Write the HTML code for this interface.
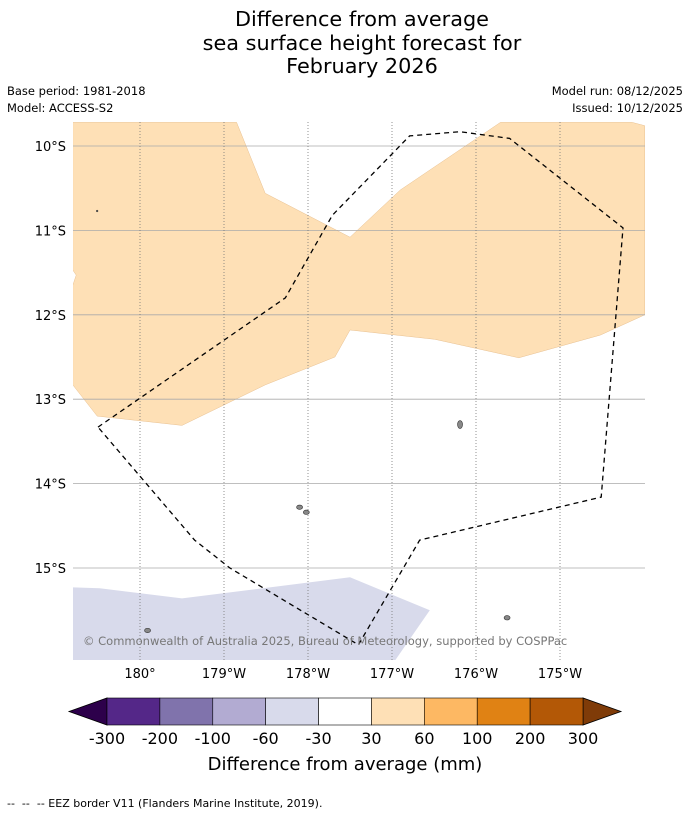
<!DOCTYPE html>
<html><head><meta charset="utf-8">
<style>
body{margin:0;background:#fff;font-family:"Liberation Sans","DejaVu Sans",sans-serif;}
#wrap{position:relative;width:690px;height:816px;overflow:hidden;}
.t{position:absolute;white-space:pre;}
</style></head>
<body>
<div id="wrap">
<div class="t" style="left:0;width:724px;top:8px;text-align:center;font-size:20.8px;line-height:23.5px;font-family:'DejaVu Sans',sans-serif;">Difference from average<br>sea surface height forecast for<br>February 2026</div>
<div class="t" style="left:7px;top:84px;font-size:11.5px;font-family:'DejaVu Sans',sans-serif;">Base period: 1981-2018</div>
<div class="t" style="left:7px;top:101px;font-size:11.5px;font-family:'DejaVu Sans',sans-serif;">Model: ACCESS-S2</div>
<div class="t" style="right:7px;top:84px;font-size:11.5px;font-family:'DejaVu Sans',sans-serif;">Model run: 08/12/2025</div>
<div class="t" style="right:7px;top:101px;font-size:11.5px;font-family:'DejaVu Sans',sans-serif;">Issued: 10/12/2025</div>
<svg id="map" width="690" height="816" style="position:absolute;left:0;top:0"></svg>
<div class="t" style="left:7px;top:797px;font-size:11px;font-family:'DejaVu Sans',sans-serif;">--  --  -- EEZ border V11 (Flanders Marine Institute, 2019).</div>
</div>
<script>
const lonTicks=[180,181,182,183,184,185];
const lonLabels=["180°","179°W","178°W","177°W","176°W","175°W"];
const latTicks=[10,11,12,13,14,15];
const latLabels=["10°S","11°S","12°S","13°S","14°S","15°S"];
const orangeLon=[179.2,181.15,181.49,182.5,183.1,184.29,185.86,186.01,186.01,185.48,184.51,183.51,182.5,182.32,181.49,180.5,179.49,179.2,179.2,179.24,179.2];
const orangeLat=[9.72,9.72,10.56,11.08,10.52,9.72,9.72,9.76,12.0,12.24,12.51,12.29,12.18,12.5,12.83,13.31,13.2,12.83,11.65,11.53,11.47];
const purpleLon=[179.2,179.52,180.5,182.5,183.45,183.04,179.2];
const purpleLat=[15.23,15.24,15.36,15.11,15.5,16.09,16.09];
const eezLon=[179.5,181.73,182.29,183.21,183.81,184.4,185.75,185.49,183.33,182.6,181.07,180.65,179.5];
const eezLat=[13.33,11.8,10.82,9.88,9.83,9.91,10.97,14.16,14.67,15.91,15.0,14.67,13.33];
const islandLon=[183.81,181.9,181.98,184.37,180.09,179.49];
const islandLat=[13.3,14.28,14.34,15.59,15.74,10.77];
const cbBounds=["-300","-200","-100","-60","-30","30","60","100","200","300"];
const cbColors=["#542788","#8073ac","#b2abd2","#d8daeb","#ffffff","#fee0b6","#fdb863","#e08214","#b35806"];
const cbLow="#2d004b", cbHigh="#7f3b08";

const NS="http://www.w3.org/2000/svg";
const svg=document.getElementById('map');
const X0=73,X1=645,Y0=122,Y1=660;
const px=lon=>140+(lon-180)*84;
const py=lat=>146+(lat-10)*84.4;
function mk(tag,attrs,parent){const e=document.createElementNS(NS,tag);for(const k in attrs)e.setAttribute(k,attrs[k]);(parent||svg).appendChild(e);return e;}
const defs=mk('defs',{});
const cp=mk('clipPath',{id:'clip'},defs);mk('rect',{x:X0,y:Y0,width:X1-X0,height:Y1-Y0},cp);
const g=mk('g',{'clip-path':'url(#clip)'});
function poly(lons,lats){return lons.map((l,i)=>px(l).toFixed(1)+','+py(lats[i]).toFixed(1)).join(' ');}
const o=mk('polygon',{points:poly(orangeLon,orangeLat),fill:'#fee0b6',stroke:'#e8c090','stroke-width':0.5},g);

const p=mk('polygon',{points:poly(purpleLon,purpleLat),fill:'#d8daeb'},g);

latTicks.forEach((t,i)=>{
  const l=mk('line',{x1:X0,x2:X1,y1:py(t),y2:py(t),stroke:'#aaa','stroke-width':0.8},g);
  
  const tx=mk('text',{x:66,y:py(t)+5,'text-anchor':'end','font-size':13,'font-family':'DejaVu Sans, sans-serif'});
  tx.textContent=latLabels[i];
  
});
lonTicks.forEach((t,i)=>{
  const l=mk('line',{x1:px(t),x2:px(t),y1:Y0,y2:Y1,stroke:'#777','stroke-width':0.8,'stroke-dasharray':'1,2'},g);
  
  const tx=mk('text',{x:px(t),y:678,'text-anchor':'middle','font-size':13,'font-family':'DejaVu Sans, sans-serif'});
  tx.textContent=lonLabels[i];
  
});
islandLon.forEach((l,i)=>{
  const e=mk('ellipse',{cx:px(l),cy:py(islandLat[i]),rx:i==5?0.8:(i==0?2.5:3),ry:i==5?0.8:(i==0?4:2.2),fill:'#888',stroke:'#333','stroke-width':0.6},g);
  
});
const eez=mk('polyline',{points:poly(eezLon,eezLat),fill:'none',stroke:'#000','stroke-width':1.3,'stroke-dasharray':'5,4'},g);

const cr=mk('text',{x:83,y:645,'font-size':11.5,fill:'#777','font-family':'DejaVu Sans, sans-serif'},g);
cr.textContent='© Commonwealth of Australia 2025, Bureau of Meteorology, supported by COSPPac';

const CB0=107,CB1=583,CT=698,CBm=725;
const w=(CB1-CB0)/cbColors.length;
const lt=mk('polygon',{points:`${CB0},${CT} ${CB0},${CBm} 69,${(CT+CBm)/2}`,fill:cbLow,stroke:'#000','stroke-width':0.8});

const rt=mk('polygon',{points:`${CB1},${CT} ${CB1},${CBm} 621,${(CT+CBm)/2}`,fill:cbHigh,stroke:'#000','stroke-width':0.8});

cbColors.forEach((c,i)=>{
  const r=mk('rect',{x:CB0+i*w,y:CT,width:w,height:CBm-CT,fill:c,stroke:'#000','stroke-width':0.6});
  
});
cbBounds.forEach((b,i)=>{
  const tx=mk('text',{x:CB0+i*w,y:744,'text-anchor':'middle','font-size':16,'font-family':'DejaVu Sans, sans-serif'});
  tx.textContent=b;
  
});
const ct=mk('text',{x:345,y:770,'text-anchor':'middle','font-size':18,'font-family':'DejaVu Sans, sans-serif'});
ct.textContent='Difference from average (mm)';

</script>
</body></html>
